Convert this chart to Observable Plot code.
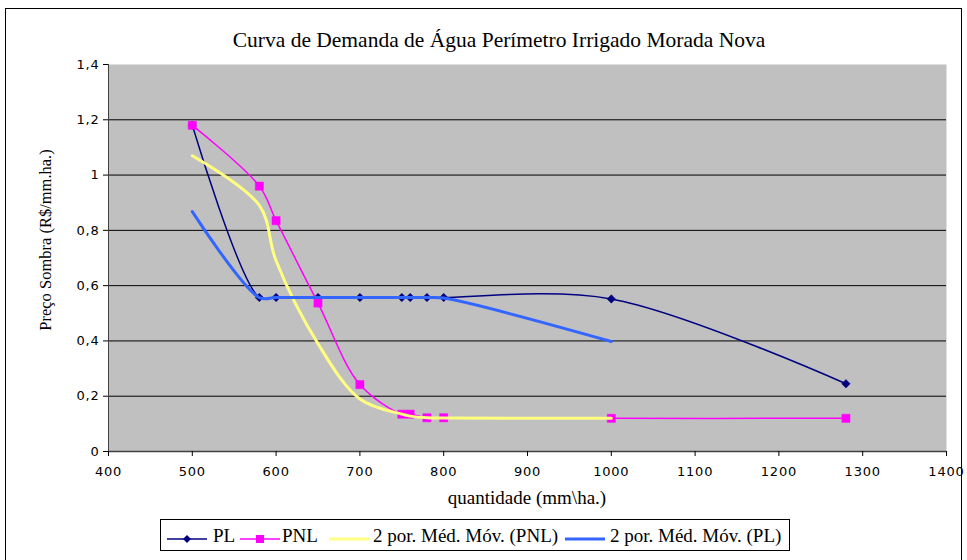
<!DOCTYPE html>
<html>
<head>
<meta charset="utf-8">
<script src="https://cdn.jsdelivr.net/npm/d3@7"></script>
<script src="https://cdn.jsdelivr.net/npm/@observablehq/plot@0.6"></script>
<style>
  body { margin: 0; background: #fff; }
  #wrap { position: relative; width: 967px; height: 560px; overflow: hidden; background: #fff; }
  #border { position: absolute; left: 5px; top: 8px; width: 955px; height: 600px; border: 1px solid #000; }
  #chart { position: absolute; left: 0; top: 0; }
  .serif { font-family: "Liberation Serif", "Times New Roman", serif; color: #000; white-space: nowrap; position: absolute; line-height: 1; }
  #title { left: 0; width: 998px; top: 30px; text-align: center; font-size: 21.5px; }
  #ytitle { left: 46px; top: 240px; font-size: 16.5px; transform: translate(-50%, -50%) rotate(-90deg); }
  #xtitle { left: 527px; top: 497px; font-size: 19px; transform: translate(-50%, -50%); }
  #legend { left: 160px; top: 519px; width: 630px; height: 32px; border: 1px solid #000; background: #fff;
            font-size: 19px; box-sizing: border-box; }
  #legend .sw { position: absolute; top: 9px; }
  #legend .lb { position: absolute; top: 6px; }
  .axis text { letter-spacing: 0.8px; }
</style>
</head>
<body>
<div id="wrap">
  <div id="border"></div>
  <div id="chart"></div>
  <div id="title" class="serif">Curva de Demanda de Água Perímetro Irrigado Morada Nova</div>
  <div id="ytitle" class="serif">Preço Sombra (R$/mm.ha.)</div>
  <div id="xtitle" class="serif">quantidade (mm\ha.)</div>
  <div id="legend" class="serif"></div>
</div>
<script>
// Quantities (mm/ha)
const quantidade = [500, 580, 600, 650, 700, 750, 760, 780, 800, 1000, 1280];
// Series PL
const PL = [1.18, 0.557, 0.557, 0.557, 0.557, 0.557, 0.557, 0.557, 0.557, 0.552, 0.245];
// Series PNL
const PNL = [1.18, 0.96, 0.835, 0.537, 0.242, 0.135, 0.135, 0.122, 0.122, 0.12, 0.12];
// Moving average trendlines (2 periods)
const mmX = [500, 580, 600, 650, 700, 750, 760, 780, 800, 1000];
const mmPNL = [1.07, 0.89, 0.69, 0.39, 0.19, 0.135, 0.128, 0.122, 0.121, 0.12];
const mmPL = [0.868, 0.557, 0.557, 0.557, 0.557, 0.557, 0.557, 0.557, 0.555, 0.398];
// Ticks
const xTicks = [400, 500, 600, 700, 800, 900, 1000, 1100, 1200, 1300, 1400];
const yTicks = [0, 0.2, 0.4, 0.6, 0.8, 1, 1.2, 1.4];
const gridY = [0.2, 0.4, 0.6, 0.8, 1, 1.2];

const colPL = "#000080", colPNL = "#FF00FF", colMMPNL = "#FFFF80", colMMPL = "#3366FF";

const plData = quantidade.map((q, i) => ({q, v: PL[i]}));
const pnlData = quantidade.map((q, i) => ({q, v: PNL[i]}));
const mmPNLData = mmX.map((q, i) => ({q, v: mmPNL[i]}));
const mmPLData = mmX.map((q, i) => ({q, v: mmPL[i]}));

const chart = Plot.plot({
  width: 967,
  height: 560,
  marginLeft: 108,
  marginRight: 21,
  marginTop: 64,
  marginBottom: 109,
  style: { fontFamily: "DejaVu Sans, sans-serif", fontSize: "13px", background: "transparent", color: "#000" },
  x: { domain: [400, 1400] },
  y: { domain: [0, 1.4] },
  marks: [
    Plot.frame({ fill: "#C0C0C0", stroke: "none" }),
    Plot.ruleY(gridY, { stroke: "#000", strokeWidth: 1 }),
    Plot.ruleY([0], { stroke: "#404040", strokeWidth: 1.5 }),
    Plot.ruleX([400], { y1: 0, y2: 1.4, stroke: "#404040", strokeWidth: 1 }),
    Plot.axisX({ ticks: xTicks, tickSize: 5, tickPadding: 10, tickFormat: d => String(d), label: null, fontSize: 13, className: "axis" }),
    Plot.axisY({ ticks: yTicks, tickSize: 5, tickPadding: 4, tickFormat: d => String(d).replace(".", ","), label: null, fontSize: 13, className: "axis" }),
    Plot.line(plData, { x: "q", y: "v", stroke: colPL, strokeWidth: 1.5, curve: "catmull-rom" }),
    Plot.line(pnlData, { x: "q", y: "v", stroke: colPNL, strokeWidth: 1.5, curve: "catmull-rom" }),
    Plot.dot(plData, { x: "q", y: "v", symbol: "diamond2", r: 3.8, fill: colPL, stroke: colPL, strokeWidth: 0.5 }),
    Plot.dot(pnlData, { x: "q", y: "v", symbol: "square", r: 4.6, fill: colPNL, stroke: colPNL, strokeWidth: 0.5 }),
    Plot.line(mmPNLData, { x: "q", y: "v", stroke: colMMPNL, strokeWidth: 3, curve: "catmull-rom" }),
    Plot.line(mmPLData, { x: "q", y: "v", stroke: colMMPL, strokeWidth: 3, curve: "catmull-rom" })
  ]
});
document.getElementById("chart").appendChild(chart);

// Legend
const legendItems = [
  { label: "PL", color: colPL, width: 1.5, marker: "diamond", sw: 6, tx: 52 },
  { label: "PNL", color: colPNL, width: 1.5, marker: "square", sw: 79, tx: 121 },
  { label: "2 por. Méd. Móv. (PNL)", color: colMMPNL, width: 3, marker: null, sw: 168, tx: 212 },
  { label: "2 por. Méd. Móv. (PL)", color: colMMPL, width: 3, marker: null, sw: 404, tx: 449 }
];
const legend = document.getElementById("legend");
for (const it of legendItems) {
  let m = "";
  if (it.marker === "diamond") m = `<path d="M20,2 L24,6 L20,10 L16,6 Z" fill="${it.color}"/>`;
  if (it.marker === "square") m = `<rect x="16" y="2" width="8" height="8" fill="${it.color}"/>`;
  const sw = document.createElement("div");
  sw.className = "sw";
  sw.style.left = it.sw + "px";
  sw.innerHTML = `<svg width="40" height="12"><line x1="0" y1="6" x2="40" y2="6" stroke="${it.color}" stroke-width="${it.width}"/>${m}</svg>`;
  legend.appendChild(sw);
  const lb = document.createElement("span");
  lb.className = "lb";
  lb.style.left = it.tx + "px";
  lb.textContent = it.label;
  legend.appendChild(lb);
}
</script>
</body>
</html>
